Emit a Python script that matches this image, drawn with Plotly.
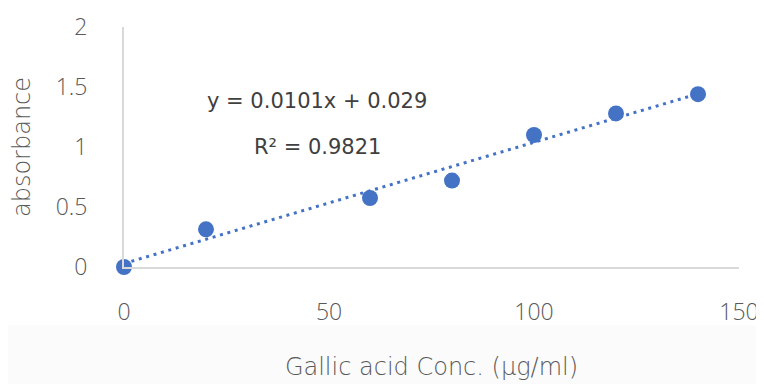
import plotly.graph_objects as go

conc = [0, 20, 60, 80, 100, 120, 140]
absorbance = [0.0, 0.314, 0.575, 0.72, 1.10, 1.28, 1.44]
slope = 0.0101
intercept = 0.029
r2 = 0.9821
x_ticks = [0, 50, 100, 150]
y_ticks = [0, 0.5, 1, 1.5, 2]
y_tick_labels = ["0", "0.5", "1", "1.5", "2"]

blue = "#4472C4"
tick_color = "#595959"
tick_font = "Open Sans, Noto Sans, sans-serif"
title_font = "DejaVu Sans, Verdana, sans-serif"

trend_x = [conc[0], conc[-1]]
trend_y = [intercept + slope * v for v in trend_x]

fig = go.Figure()
fig.add_trace(go.Scatter(
    x=trend_x, y=trend_y, mode="lines",
    line=dict(color=blue, width=3, dash="3px,4.7px"),
    hoverinfo="skip", showlegend=False, cliponaxis=False,
))
fig.add_trace(go.Scatter(
    x=conc, y=absorbance, mode="markers",
    marker=dict(color=blue, size=16, line=dict(width=0)),
    showlegend=False, cliponaxis=False,
))

fig.add_annotation(
    x=47.1, y=1.383, xref="x", yref="y",
    text=f"y = {slope}x + {intercept}", showarrow=False,
    font=dict(family=title_font, size=21, color="#404040"),
)
fig.add_annotation(
    x=47.3, y=1.0, xref="x", yref="y",
    text=f"R² = {r2}", showarrow=False,
    font=dict(family=title_font, size=21, color="#404040"),
)

fig.add_shape(
    type="rect", xref="paper", yref="paper", layer="below",
    x0=-0.19, x1=1.041, y0=-0.49, y1=-0.243,
    fillcolor="#fbfbfb", line=dict(width=0),
)

fig.update_layout(
    width=756, height=376,
    margin=dict(l=116, r=25, t=19, b=117, autoexpand=False),
    paper_bgcolor="white", plot_bgcolor="white",
    font=dict(family=tick_font, color=tick_color, size=23),
    xaxis=dict(
        range=[0, 150], tickvals=x_ticks, showgrid=False, zeroline=False,
        showline=True, linecolor="#d9d9d9", linewidth=2, automargin=False,
        ticks="outside", ticklen=23, tickcolor="rgba(0,0,0,0)",
        tickfont=dict(family=tick_font, size=23, color=tick_color, weight=300),
        title=dict(text="Gallic acid Conc. (µg/ml)", standoff=33,
                   font=dict(family=title_font, size=24, color=tick_color, weight=200)),
    ),
    yaxis=dict(
        range=[0, 2], tickvals=y_ticks, ticktext=y_tick_labels,
        showgrid=False, zeroline=False, automargin=False,
        showline=True, linecolor="#d9d9d9", linewidth=2,
        ticks="outside", ticklen=30, tickcolor="rgba(0,0,0,0)",
        tickfont=dict(family=tick_font, size=23, color=tick_color, weight=300),
        title=dict(text="absorbance", standoff=21,
                   font=dict(family=title_font, size=24, color=tick_color, weight=200)),
    ),
)

fig.write_html("out.html")
